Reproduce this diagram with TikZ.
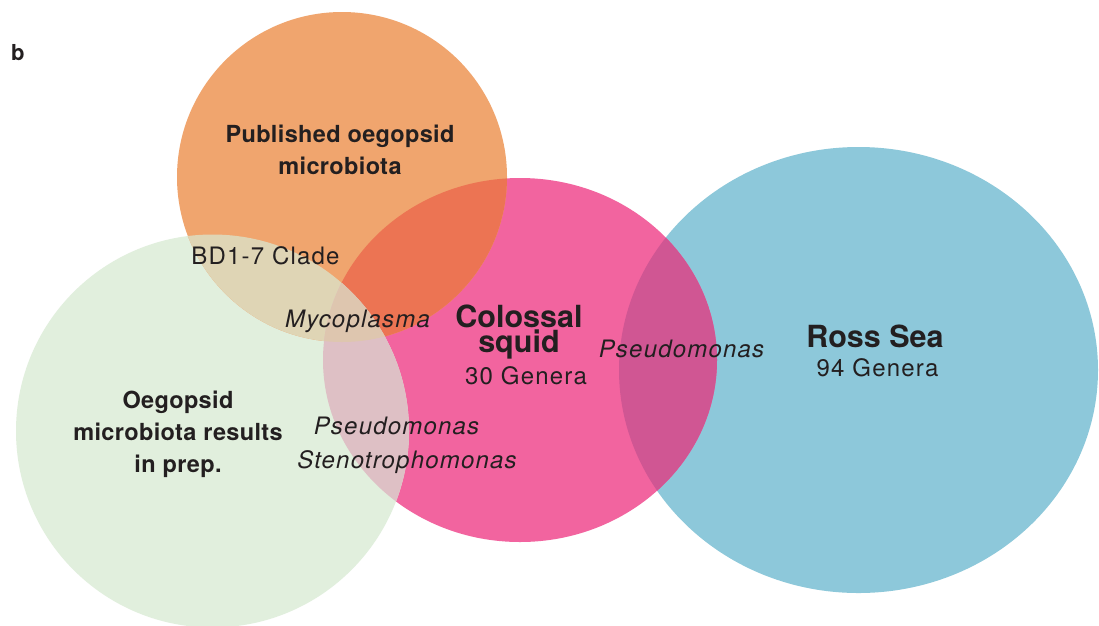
\documentclass[tikz,border=0pt]{standalone}
\usepackage{fontspec}
\setmainfont{TeX Gyre Heros}
\newfontfamily\spaced[LetterSpace=5]{TeX Gyre Heros}
\newfontfamily\spacedb[LetterSpace=1.5]{TeX Gyre Heros}
\definecolor{cOr}{HTML}{F0A56E}
\definecolor{cPk}{HTML}{F2649F}
\definecolor{cBl}{HTML}{8DC8DA}
\definecolor{cGr}{HTML}{E1EFDD}
\definecolor{cOP}{HTML}{EC7453}
\definecolor{cOG}{HTML}{DFD5B5}
\definecolor{cPG}{HTML}{DEC0C5}
\definecolor{cOPG}{HTML}{DEC6AF}
\definecolor{cPB}{HTML}{D05693}
\definecolor{txt}{HTML}{231F20}
\tikzset{
  lbl/.style={text=txt, inner sep=0pt, align=center},
  bigb/.style={lbl, font=\spacedb\fontsize{23.5}{32}\selectfont\bfseries},
  hugeb/.style={lbl, font=\fontsize{30.5}{22}\selectfont\bfseries},
  reg/.style={lbl, anchor=base, font=\spaced\fontsize{24}{26}\selectfont},
  ital/.style={lbl, anchor=base, font=\spaced\fontsize{24}{26}\selectfont\itshape},
}
\newcommand{\shOr}{(342,177) circle [radius=165pt]}
\newcommand{\shGr}{(212.5,431) circle [radius=196.5pt]}
\newcommand{\shPk}{(520,360) ellipse [x radius=197pt, y radius=182pt]}
\newcommand{\shBl}{(858.5,370) ellipse [x radius=239.5pt, y radius=223pt]}
\begin{document}
\begin{tikzpicture}[x=1pt,y=-1pt]
\useasboundingbox (0,0) rectangle (1099,625);
\fill[white] (0,0) rectangle (1099,625);
% base shapes
\fill[cBl] \shBl;
\fill[cPk] \shPk;
\fill[cGr] \shGr;
\fill[cOr] \shOr;
% pairwise overlaps
\begin{scope}\clip \shPk; \fill[cPB] \shBl; \end{scope}
\begin{scope}\clip \shOr; \fill[cOP] \shPk; \end{scope}
\begin{scope}\clip \shOr; \fill[cOG] \shGr; \end{scope}
\begin{scope}\clip \shPk; \fill[cPG] \shGr; \end{scope}
\begin{scope}\clip \shOr; \clip \shPk; \fill[cOPG] \shGr; \end{scope}
% labels
\node[lbl, font=\fontsize{22}{22}\selectfont\bfseries, anchor=base west] (b) at (11,60) {b};
\node[bigb] (pub) at (340,150) {Published oegopsid\\microbiota};
\node[bigb] (oeg) at (178,434) {Oegopsid\\microbiota results\\in prep.};
\node[reg] (bd) at (265.5,264) {BD1-7 Clade};
\node[ital] (myco) at (357.5,327) {Mycoplasma};
\node[hugeb] (col) at (519,332) {Colossal\\squid};
\node[reg] (cg) at (526,384) {30 Genera};
\node[ital] (ps1) at (681.5,357) {Pseudomonas};
\node[hugeb, anchor=base] (ross) at (875,347) {Ross Sea};
\node[reg] (rg) at (877.5,376) {94 Genera};
\node[ital] (ps2) at (396.5,434) {Pseudomonas};
\node[ital] (steno) at (407,468) {Stenotrophomonas};
\end{tikzpicture}
\end{document}
